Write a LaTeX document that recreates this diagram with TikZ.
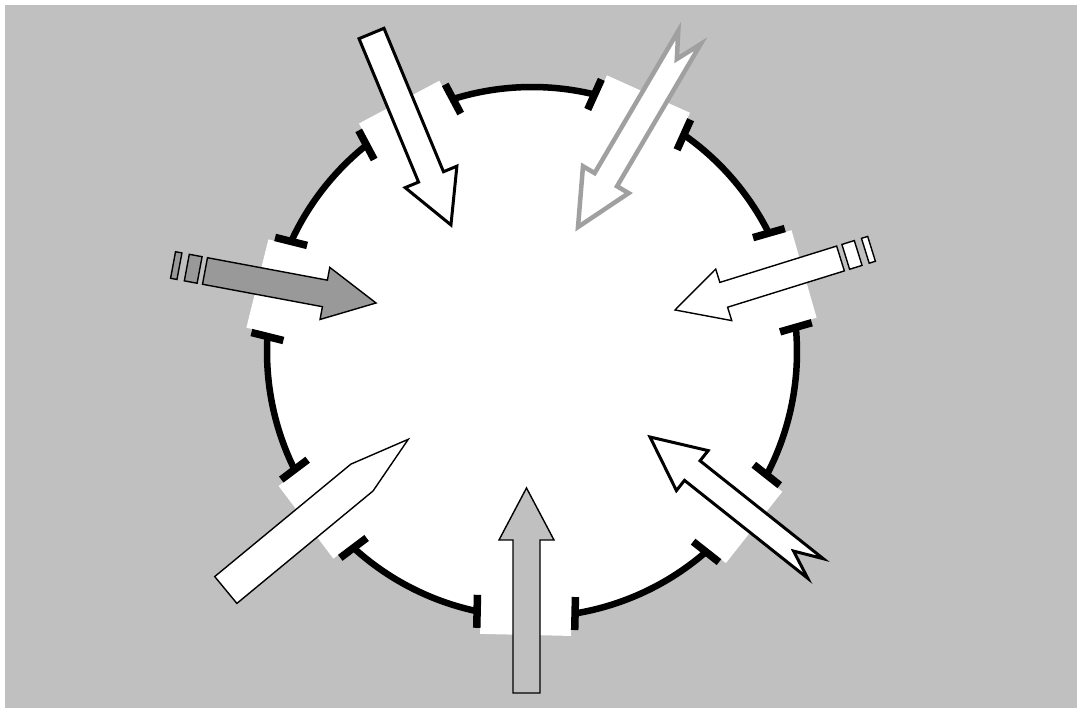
\documentclass[tikz,border=0pt]{standalone}
\definecolor{bggray}{RGB}{192,192,192}
\definecolor{darkfill}{RGB}{153,153,153}
\definecolor{lightstroke}{RGB}{160,160,160}
\tikzset{
  arcline/.style={line width=6.5pt, black},
  barline/.style={line width=7.5pt, black},
  gatebox/.style={fill=white},
  thinarrow/.style={draw=black, line width=1.4pt, line join=miter},
  thickarrow/.style={draw=black, line width=3pt, line join=miter},
  grayarrow/.style={draw=lightstroke, line width=4.5pt, line join=miter, fill=white},
}
\newcommand{\gate}[1]{%
  \begin{scope}[shift={(532,356)}, rotate=#1]
    \fill[gatebox] (200,-45.5) rectangle (283,45.5);
    \draw[barline] (244,49) -- (277,49);
    \draw[barline] (244,-49) -- (277,-49);
  \end{scope}}
\newcommand{\wall}[2]{%
  \draw[arcline] (532,356) ++(#1:265) arc[start angle=#1, end angle=#2, radius=265];}
\begin{document}
\begin{tikzpicture}[x=1pt, y=1pt]
\useasboundingbox (0,0) rectangle (1077,708);
\fill[white] (0,0) rectangle (1077,708);
\fill[bggray] (5,0) rectangle (1077,703);
% room
\coordinate (c) at (532,356);
\fill[white] (c) circle[radius=265];
% gates
\gate{16}
\gate{65.7}
\gate{118}
\gate{166}
\gate{217}
\gate{268.7}
\gate{321.7}
% walls
\wall{26.6}{55.1}
\wall{76.3}{107.4}
\wall{128.6}{155.4}
\wall{176.6}{206.4}
\wall{227.6}{258.1}
\wall{279.3}{311.1}
\wall{332.3}{365.4}
% arrow 1 (top left, white, thick)
\begin{scope}[shift={(371.5,674.5)}, rotate=-67.46]
  \draw[thickarrow, fill=white] (0,-13.5) -- (155.3,-13.5) -- (155.3,-28) -- (207.3,0) -- (155.3,28) -- (155.3,13.5) -- (0,13.5) -- cycle;
\end{scope}
% arrow 2 (top right, gray outline, swallow tail)
\begin{scope}[shift={(689.5,670.5)}, rotate=-120.47]
  \draw[grayarrow] (0,-13) -- (165,-13) -- (165,-26.5) -- (219.9,0) -- (165,26.5) -- (165,13) -- (0,13) -- (25,0) -- cycle;
\end{scope}
% arrow 3 (right, white, striped tail)
\begin{scope}[shift={(840.5,449.5)}, rotate=-162.72]
  \draw[thinarrow, fill=white] (0,-13) -- (122.3,-13) -- (122.3,-27) -- (173.3,0) -- (122.3,27) -- (122.3,13) -- (0,13) -- cycle;
  \draw[thinarrow, fill=white] (-18.5,-13) rectangle (-5.5,13);
  \draw[thinarrow, fill=white] (-32.5,-13) rectangle (-26,13);
\end{scope}
% arrow 4 (lower right, white, swallow tail)
\begin{scope}[shift={(815.5,139.5)}, rotate=141.53]
  \draw[thickarrow, fill=white] (0,-12.5) -- (157.4,-12.5) -- (157.4,-25.5) -- (211.4,0) -- (157.4,25.5) -- (157.4,12.5) -- (0,12.5) -- (28,0) -- cycle;
\end{scope}
% arrow 5 (bottom, gray)
\begin{scope}[shift={(526.5,15)}, rotate=90]
  \draw[thinarrow, fill=bggray] (0,-13.5) -- (153,-13.5) -- (153,-27.5) -- (205,0) -- (153,27.5) -- (153,13.5) -- (0,13.5) -- cycle;
\end{scope}
% arrow 6 (lower left, pencil)
\begin{scope}[shift={(225.8,118)}, rotate=39.55]
  \draw[thinarrow, fill=white] (0,-17.4) -- (176.6,-17.4) -- (236.7,0) -- (176.6,17.4) -- (0,17.4) -- cycle;
\end{scope}
% arrow 7 (left, dark gray, striped tail)
\begin{scope}[shift={(205,437)}, rotate=-10.6]
  \draw[thinarrow, fill=darkfill] (0,-13.5) -- (122,-13.5) -- (122,-26.5) -- (174,0) -- (122,26.5) -- (122,13.5) -- (0,13.5) -- cycle;
  \draw[thinarrow, fill=darkfill] (-18.5,-13.5) rectangle (-5.5,13.5);
  \draw[thinarrow, fill=darkfill] (-32.5,-13.5) rectangle (-26,13.5);
\end{scope}
\end{tikzpicture}
\end{document}
